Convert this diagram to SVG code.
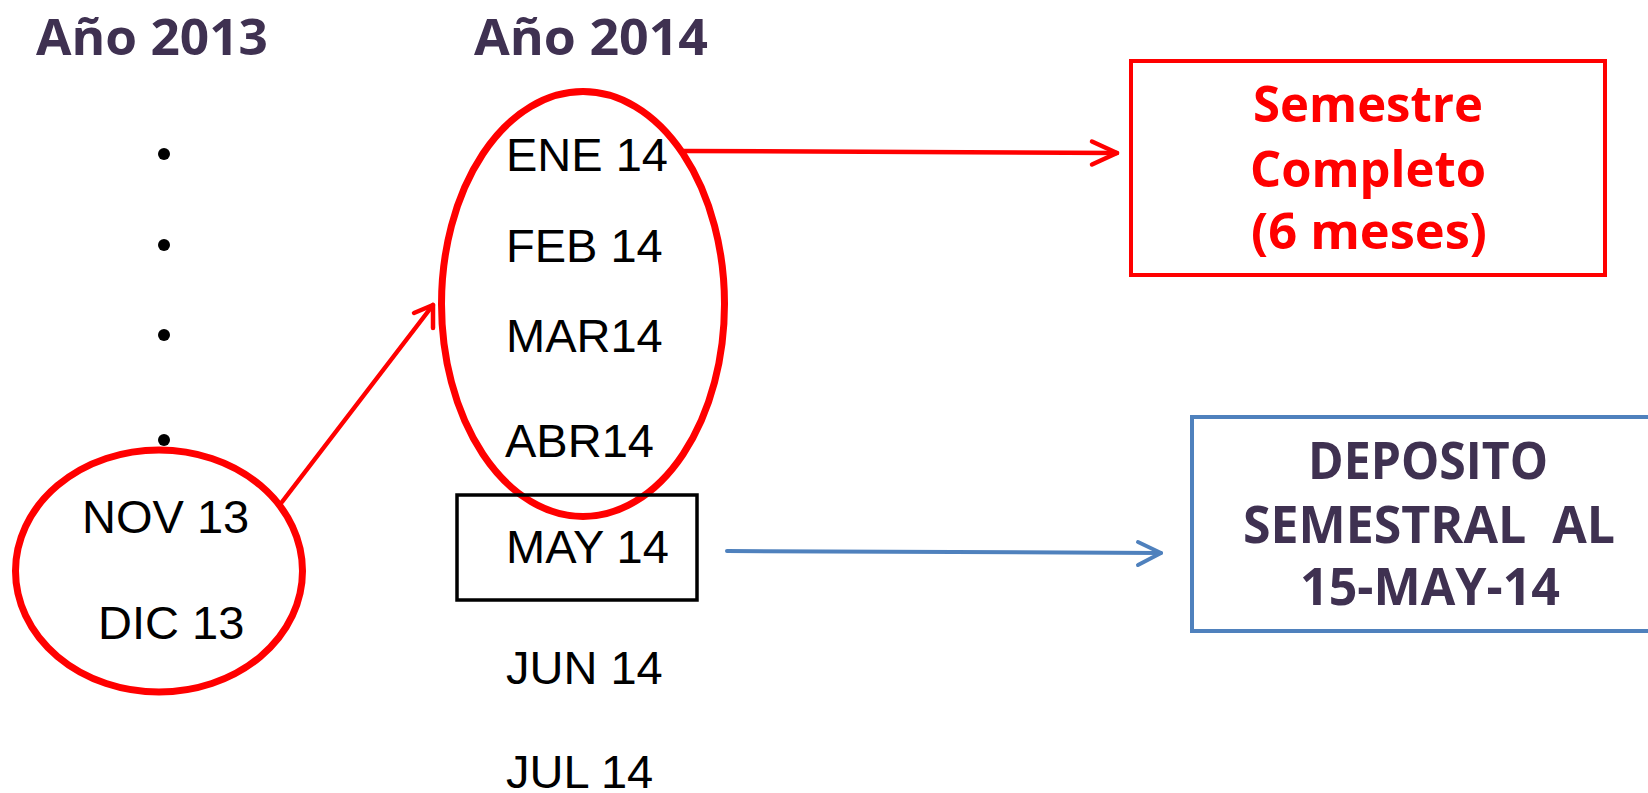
<svg xmlns="http://www.w3.org/2000/svg" width="1648" height="793" viewBox="0 0 1648 793">
<style>
.hd{font-family:"Open Sans","DejaVu Sans",sans-serif;font-weight:bold;fill:#3F3151;font-size:51px}
.mo{font-family:"Liberation Sans",Arial,sans-serif;font-size:47px;fill:#000}
.rt{font-family:"Open Sans","DejaVu Sans",sans-serif;font-weight:bold;fill:#FF0000;font-size:50px;text-anchor:middle}
.bt{font-family:"Open Sans","DejaVu Sans",sans-serif;font-weight:bold;fill:#3F3151;font-size:52px;text-anchor:middle}
.rl{fill:none;stroke:#FF0000;stroke-width:4.5;stroke-linecap:round;stroke-linejoin:round}
.bl{fill:none;stroke:#4F81BD;stroke-width:4;stroke-linecap:round;stroke-linejoin:round}
</style>
<rect width="1648" height="793" fill="#fff"/>
<g id="headers">
<text class="hd" x="36" y="55" textLength="232" lengthAdjust="spacingAndGlyphs">Año 2013</text>
<text class="hd" x="474" y="55" textLength="234" lengthAdjust="spacingAndGlyphs">Año 2014</text>
</g>
<g id="dots" fill="#000">
<circle cx="164" cy="154" r="6"/>
<circle cx="164" cy="245" r="6"/>
<circle cx="164" cy="335" r="6"/>
<circle cx="164" cy="440" r="6"/>
</g>
<g id="months2014">
<text class="mo" x="506" y="171">ENE 14</text>
<text class="mo" x="506" y="262">FEB 14</text>
<text class="mo" x="506" y="352">MAR14</text>
<text class="mo" x="505" y="457">ABR14</text>
<text class="mo" x="506" y="563">MAY 14</text>
<text class="mo" x="506" y="684">JUN 14</text>
<text class="mo" x="506" y="788">JUL 14</text>
</g>
<g id="ellipse2014">
<ellipse cx="583" cy="304" rx="141.5" ry="212.5" fill="none" stroke="#FF0000" stroke-width="7"/>
</g>
<g id="may-box">
<rect x="457" y="495" width="240" height="105" fill="none" stroke="#000" stroke-width="3.5"/>
</g>
<g id="ellipse2013">
<ellipse cx="159" cy="571" rx="143.5" ry="121" fill="none" stroke="#FF0000" stroke-width="7"/>
<text class="mo" x="82" y="533">NOV 13</text>
<text class="mo" x="98" y="639">DIC 13</text>
</g>
<g id="semestre-box">
<rect x="1131" y="61" width="474" height="214" fill="none" stroke="#FF0000" stroke-width="4"/>
<text class="rt" x="1368" y="122" textLength="230" lengthAdjust="spacingAndGlyphs">Semestre</text>
<text class="rt" x="1368" y="187" textLength="236" lengthAdjust="spacingAndGlyphs">Completo</text>
<text class="rt" x="1369" y="249" textLength="236" lengthAdjust="spacingAndGlyphs">(6 meses)</text>
</g>
<g id="deposito-box">
<rect x="1192" y="417" width="480" height="214" fill="none" stroke="#4F81BD" stroke-width="4"/>
<text class="bt" x="1428" y="479" textLength="240" lengthAdjust="spacingAndGlyphs">DEPOSITO</text>
<text class="bt" x="1429" y="543" textLength="372" lengthAdjust="spacingAndGlyphs" xml:space="preserve">SEMESTRAL  AL</text>
<text class="bt" x="1430" y="605" textLength="260" lengthAdjust="spacingAndGlyphs">15-MAY-14</text>
</g>
<g id="connectors">
<path class="rl" d="M282 502 L433 305"/>
<path class="rl" d="M414 313 L433 305 L433 328"/>
<path class="rl" d="M684 151 L1117 153"/>
<path class="rl" d="M1092 141.5 L1117 153 L1092 164.5"/>
<path class="bl" d="M727 551 L1161 553"/>
<path class="bl" d="M1138 542 L1161 553 L1138 565"/>
</g>
</svg>
